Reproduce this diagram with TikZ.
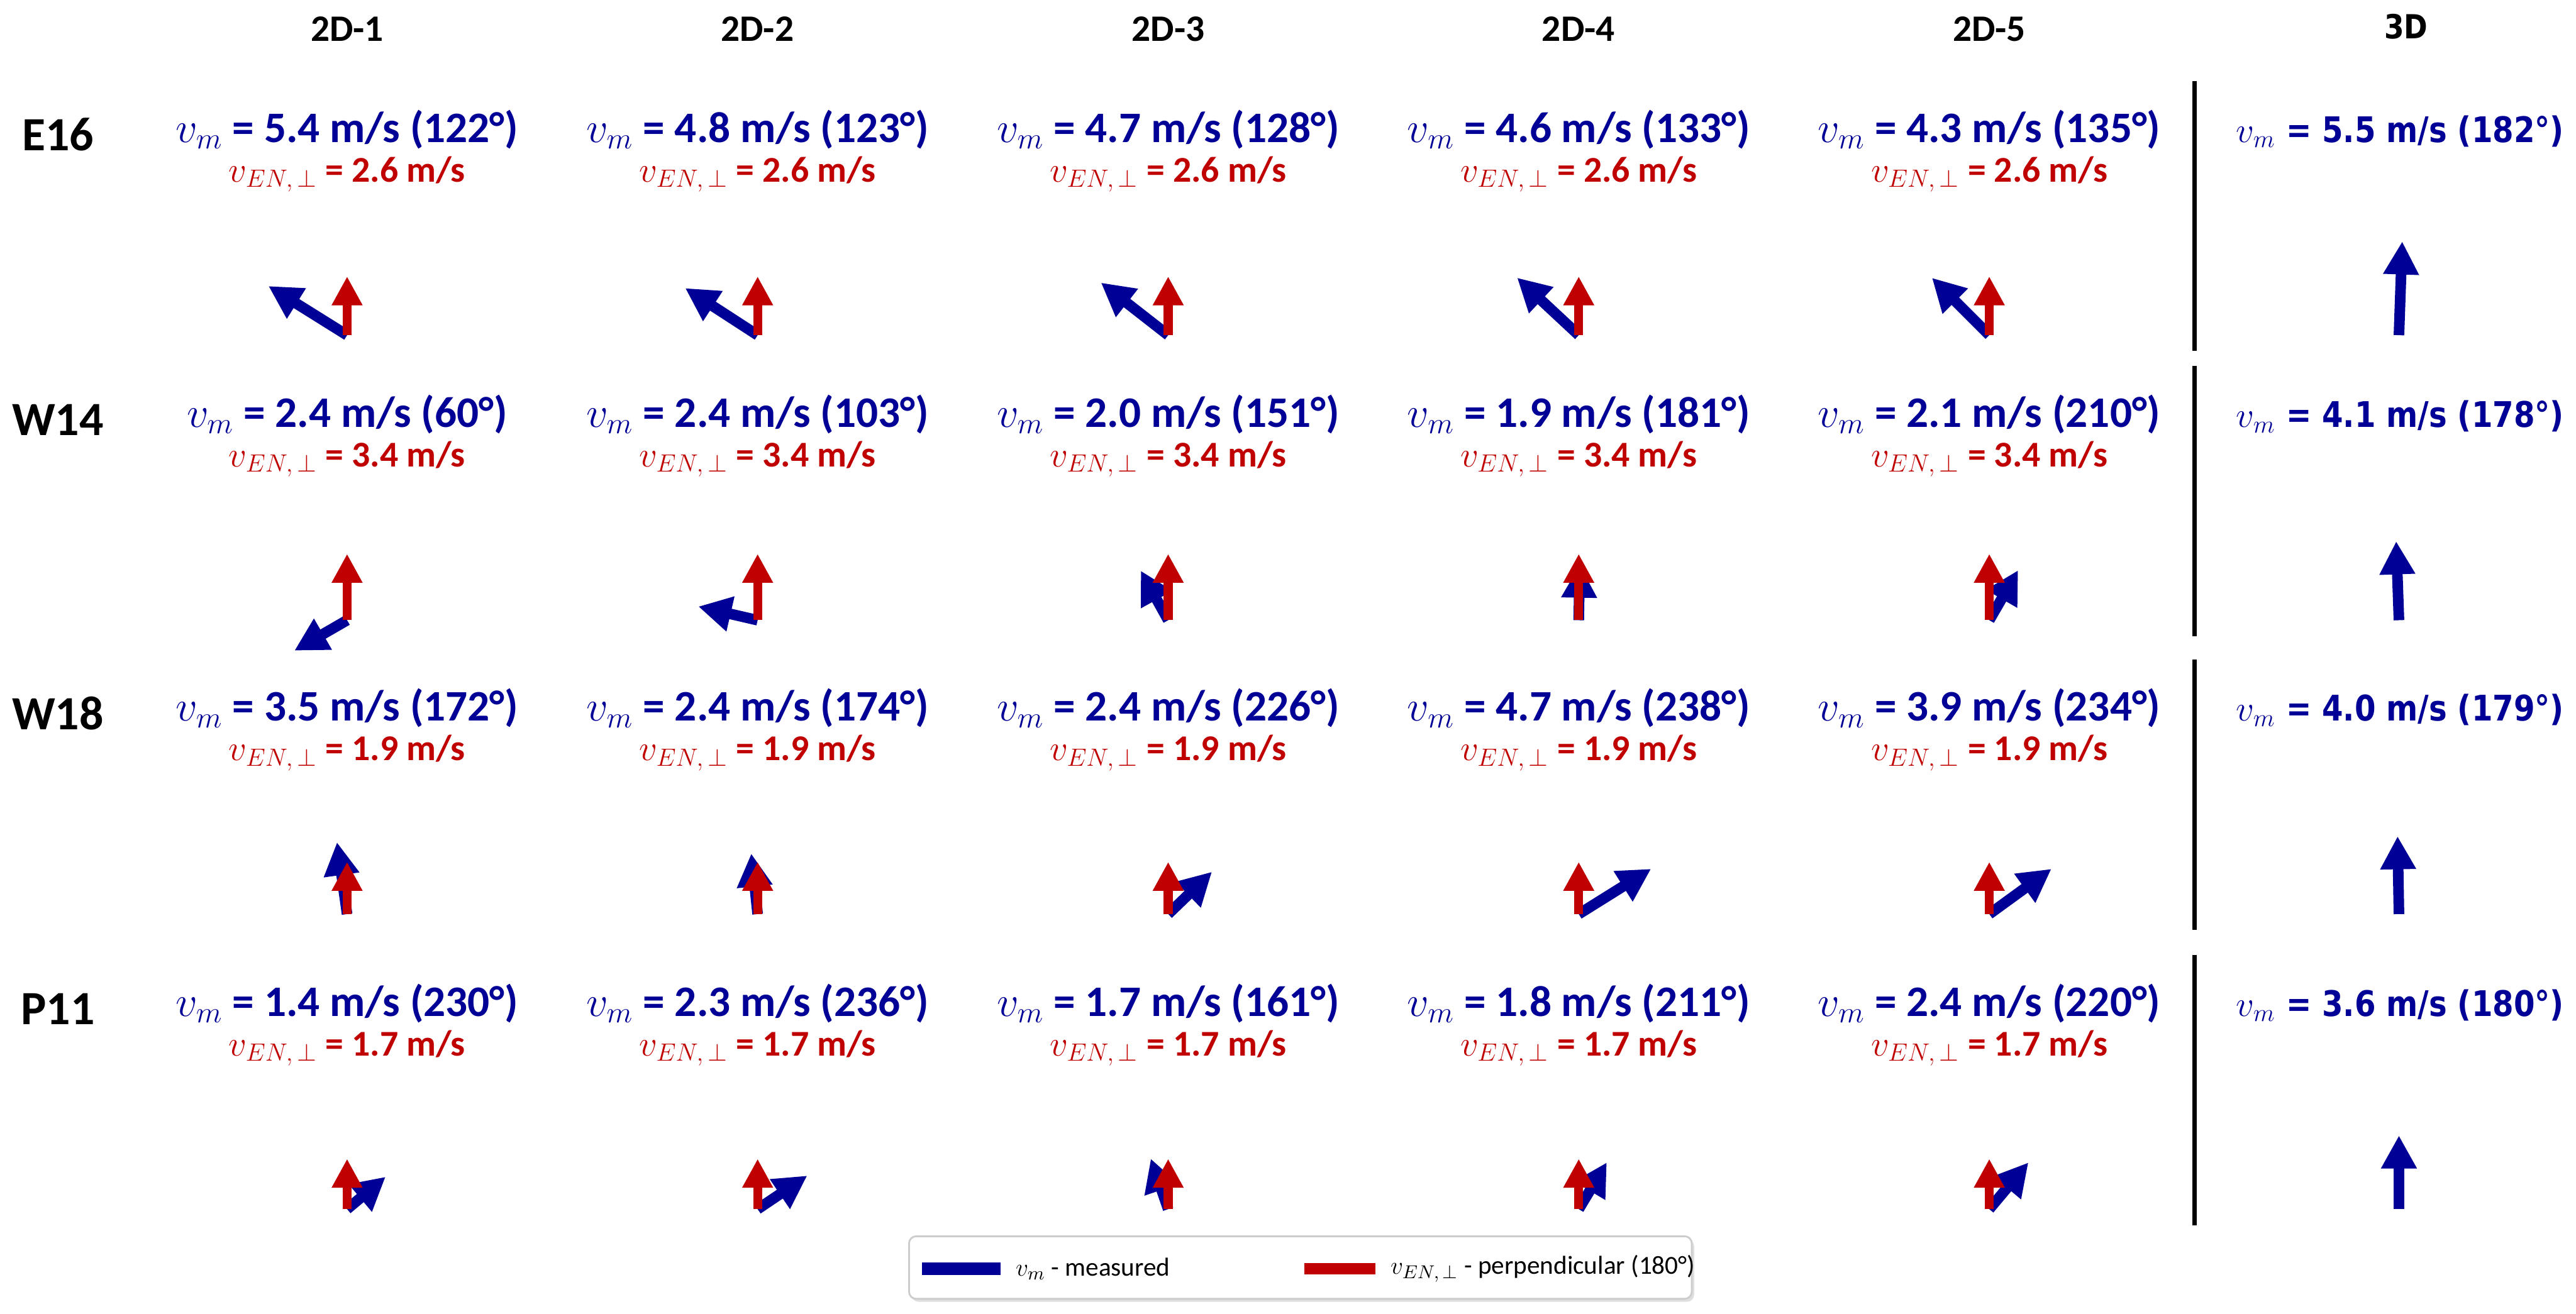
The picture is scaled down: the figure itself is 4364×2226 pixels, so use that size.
\documentclass[tikz,border=0pt]{standalone}
\usepackage{fontspec}
\setmainfont{Carlito}
\newfontfamily\widefont[FakeStretch=0.86]{DejaVu Sans}
\definecolor{vmblue}{RGB}{0,0,150}
\definecolor{enred}{RGB}{192,0,0}
\usetikzlibrary{arrows.meta,positioning,shadows}
\tikzset{
	colhead/.style={anchor=base, inner sep=0pt, font=\fontsize{18}{20}\selectfont\bfseries},
	colheadwide/.style={anchor=base, inner sep=0pt, font=\widefont\fontsize{16}{18}\selectfont\bfseries},
	rowlabel/.style={anchor=base, inner sep=0pt, font=\fontsize{23}{26}\selectfont\bfseries},
	vmtext/.style={anchor=base, inner sep=0pt, text=vmblue, font=\fontsize{21}{24}\selectfont\bfseries},
	vmtextwide/.style={anchor=base, inner sep=0pt, text=vmblue, font=\widefont\fontsize{17}{20}\selectfont\bfseries},
	entext/.style={anchor=base, inner sep=0pt, text=enred, font=\fontsize{17.5}{20}\selectfont\bfseries},
	vmarrow/.style={draw=vmblue, line width=1.8mm, -{Triangle[length=5.6mm, width=5.7mm]}},
	enarrow/.style={draw=enred, line width=1.5mm, -{Triangle[length=4.9mm, width=4.9mm]}},
	divider/.style={line width=0.7mm},
	legendbox/.style={draw=black!20, line width=0.3mm, rounded corners=1.2mm, fill=white,
		minimum width=132.6mm, minimum height=10.6mm,
		drop shadow={shadow xshift=0.4mm, shadow yshift=-0.5mm, opacity=0.25}},
	legtext/.style={inner sep=0pt, font=\fontsize{12.5}{14}\selectfont}
}

\begin{document}
\begin{tikzpicture}[x=0.1mm, y=0.1mm]
	\useasboundingbox (0,0) rectangle (4364,-2226);
	% column heads
	\node[colhead] (head1) at (588,-70) {2D-1};
	\node[colhead] (head2) at (1283,-70) {2D-2};
	\node[colhead] (head3) at (1979,-70) {2D-3};
	\node[colhead] (head4) at (2674,-70) {2D-4};
	\node[colhead] (head5) at (3370,-70) {2D-5};
	\node[colheadwide] (head6) at (4076,-66) {3D};
	% row labels
	\node[rowlabel] (E16) at (98,-255) {E16};
	\node[rowlabel] (W14) at (98,-738) {W14};
	\node[rowlabel] (W18) at (98,-1236) {W18};
	\node[rowlabel] (P11) at (98,-1736) {P11};
	% 2D panels: row / baseline / v_EN / column / v_m / angle
	\foreach \lab/\yb/\ven/\col/\spd/\ang in {
		E16/241/2.6/1/5.4/122, E16/241/2.6/2/4.8/123, E16/241/2.6/3/4.7/128, E16/241/2.6/4/4.6/133, E16/241/2.6/5/4.3/135,
		W14/724/3.4/1/2.4/60, W14/724/3.4/2/2.4/103, W14/724/3.4/3/2.0/151, W14/724/3.4/4/1.9/181, W14/724/3.4/5/2.1/210,
		W18/1222/1.9/1/3.5/172, W18/1222/1.9/2/2.4/174, W18/1222/1.9/3/2.4/226, W18/1222/1.9/4/4.7/238, W18/1222/1.9/5/3.9/234,
		P11/1722/1.7/1/1.4/230, P11/1722/1.7/2/2.3/236, P11/1722/1.7/3/1.7/161, P11/1722/1.7/4/1.8/211, P11/1722/1.7/5/2.4/220}{
		\pgfmathsetmacro{\cx}{588+695.5*(\col-1)}
		\node[vmtext] (vm-\lab-\col) at (\cx,-\yb) {$v_m$ = \spd\ m/s (\ang°)};
		\node[entext] (en-\lab-\col) at (\cx,-\yb-67) {$v_{EN,\,\perp}$ = \ven\ m/s};
		\coordinate (o-\lab-\col) at (\cx,-\yb-327);
		\draw[vmarrow] (o-\lab-\col) -- ++({270-\ang}:{60+18*\spd});
		\draw[enarrow] (o-\lab-\col) -- ++(90:{58+16*\ven});
	}
	% 3D panels
	\foreach \lab/\yb/\spd/\ang in {E16/241/5.5/182, W14/724/4.1/178, W18/1222/4.0/179, P11/1722/3.6/180}{
		\node[vmtextwide] (vm-\lab-3d) at (4066,-\yb) {$v_m$ = \spd\ m/s (\ang°)};
		\coordinate (o-\lab-3d) at (4064,-\yb-327);
		\draw[vmarrow] (o-\lab-3d) -- ++({270-\ang}:{60+18*\spd});
		\coordinate (sep-top-\lab) at (3718,-\yb+104);
		\coordinate (sep-bot-\lab) at (3718,-\yb-354);
		\draw[divider] (sep-top-\lab) -- (sep-bot-\lab);
	}
	% legend
	\node[legendbox] (legend) at (2203,-2148) {};
	\coordinate (leg-b0) at (1562,-2150);
	\coordinate (leg-b1) at (1695,-2150);
	\draw[draw=vmblue, line width=2.1mm] (leg-b0) -- (leg-b1);
	\node[legtext, right=2.5mm of leg-b1] (leg-vm) {$v_m$ - measured};
	\coordinate (leg-r0) at (2210,-2150);
	\coordinate (leg-r1) at (2330,-2150);
	\draw[draw=enred, line width=1.9mm] (leg-r0) -- (leg-r1);
	\node[legtext, right=2.5mm of leg-r1] (leg-en) {$v_{EN,\,\perp}$ - perpendicular (180°)};
\end{tikzpicture}
\end{document}
